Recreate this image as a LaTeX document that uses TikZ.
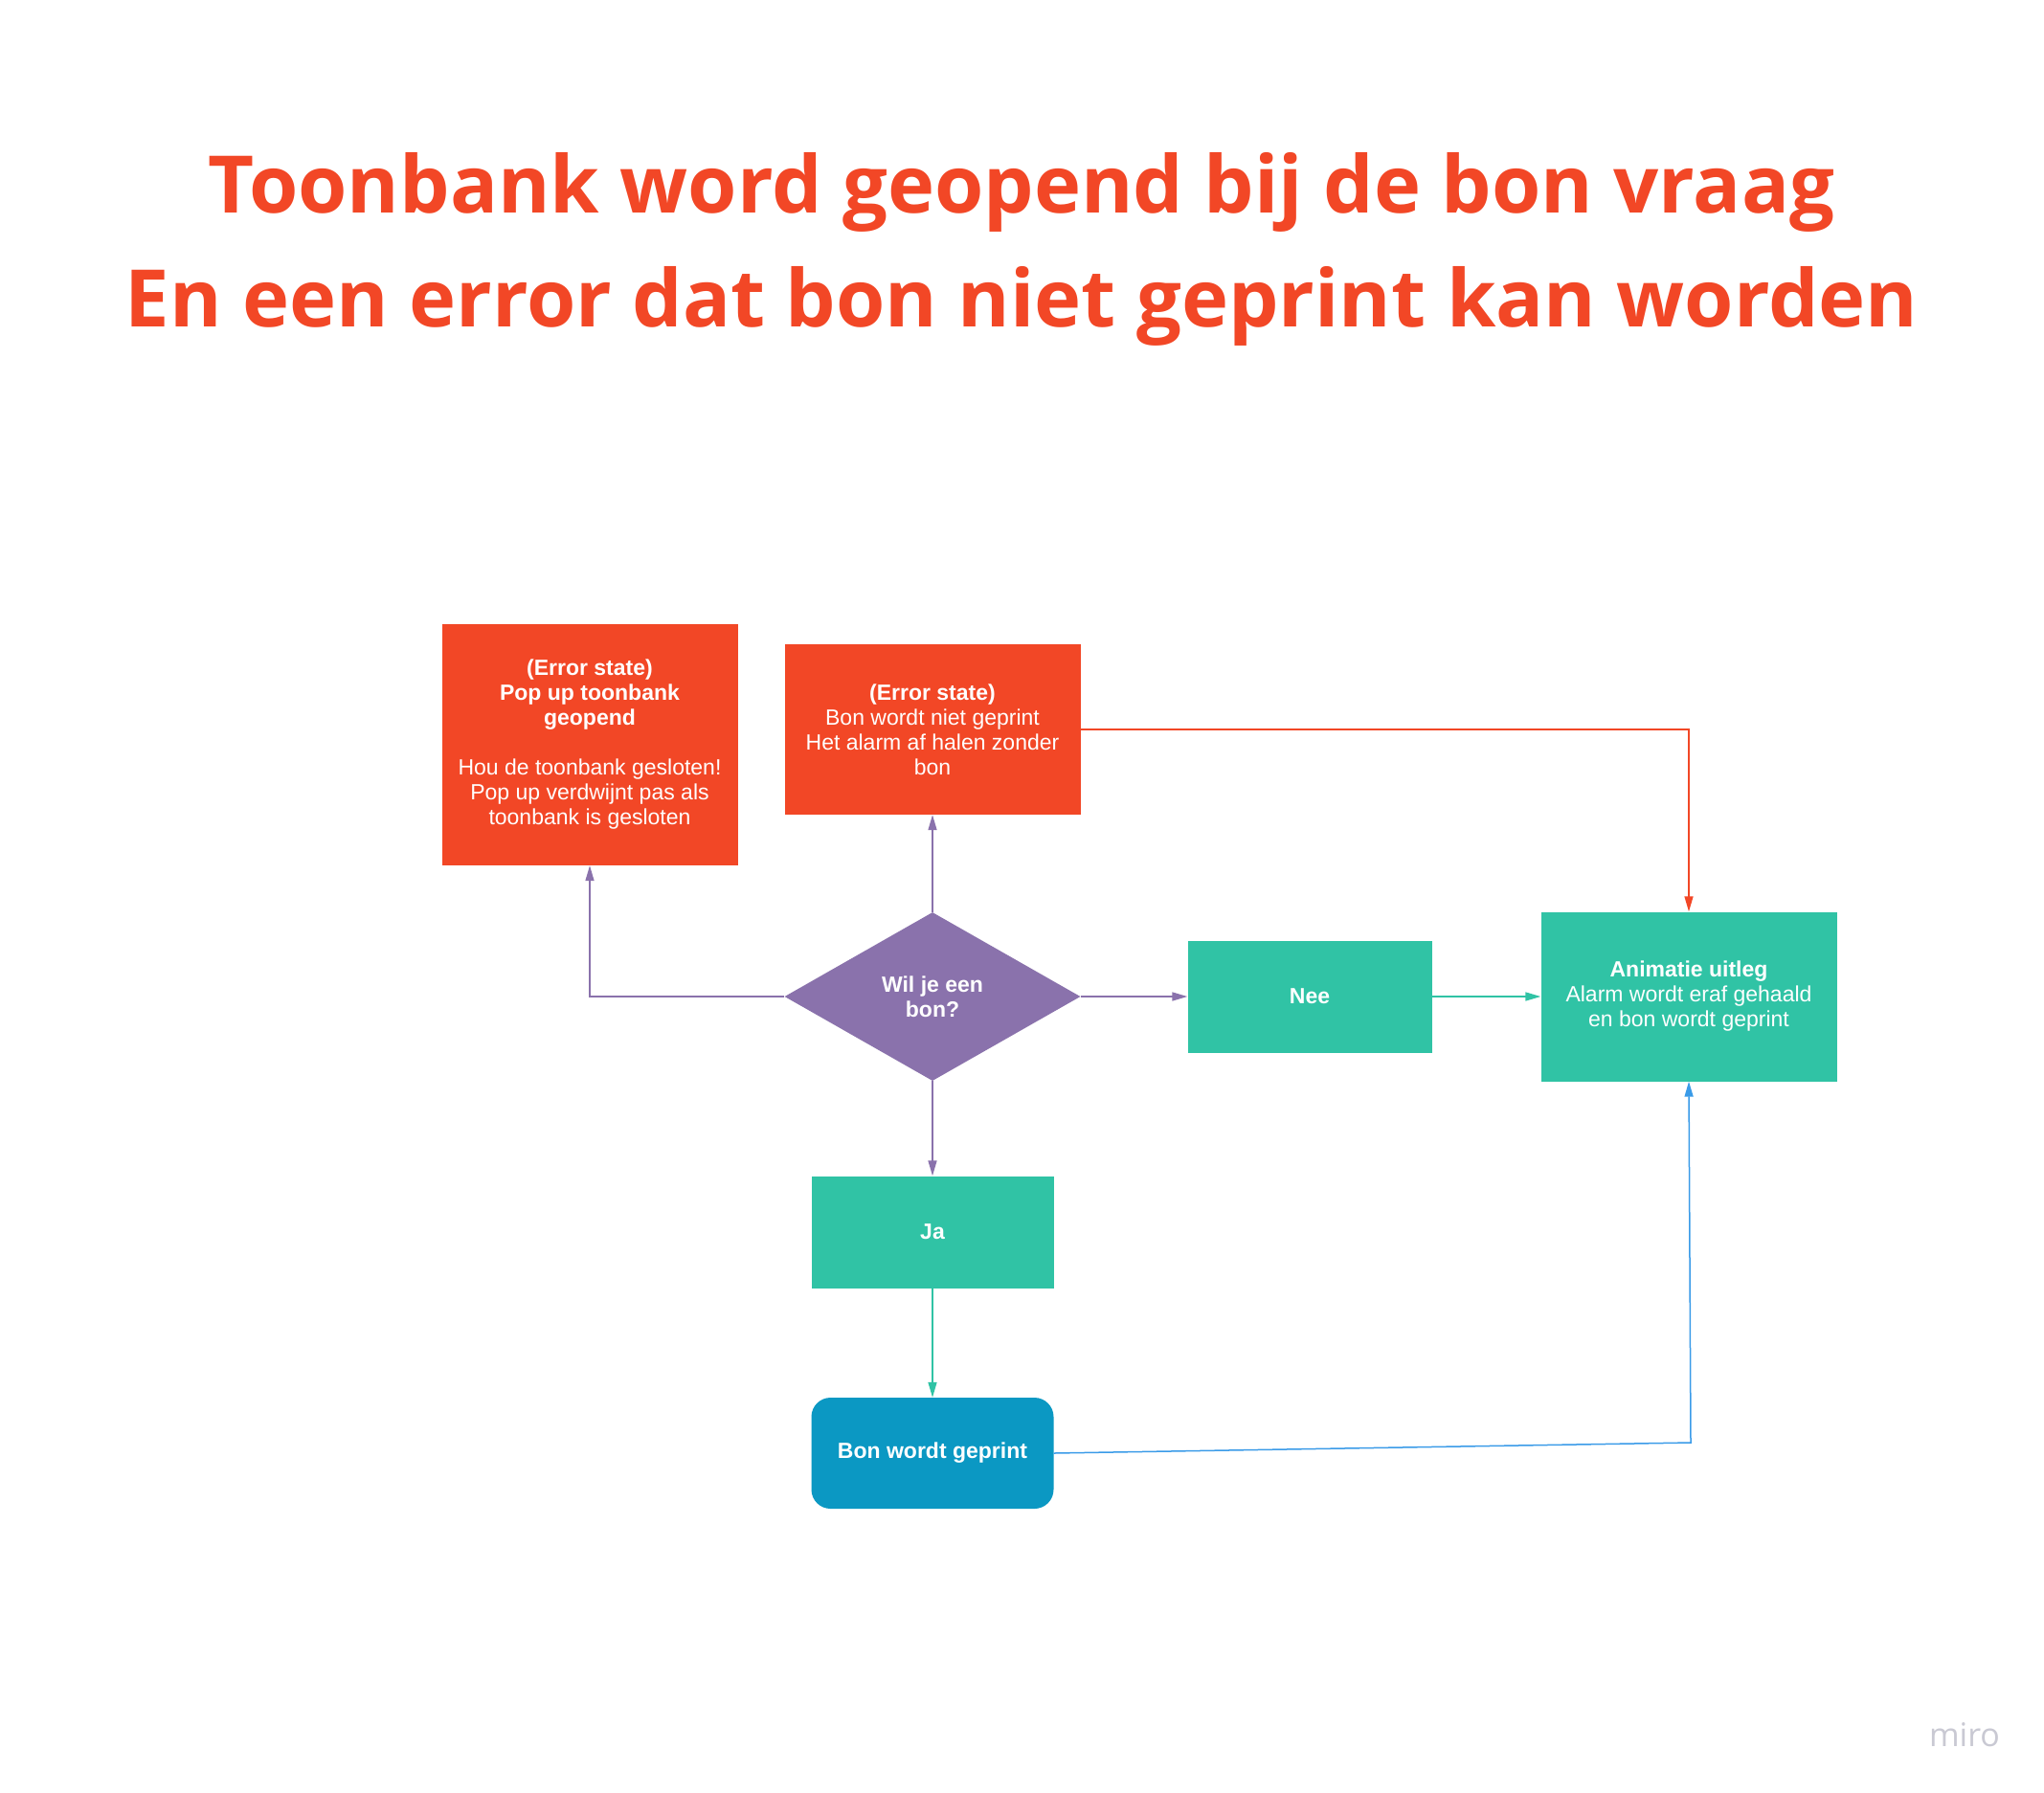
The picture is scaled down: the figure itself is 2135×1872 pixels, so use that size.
\documentclass[tikz,border=0pt]{standalone}
\usepackage{fontspec}
\setmainfont{Liberation Sans}
\newfontfamily\titlefont{Open Sans}
\usetikzlibrary{shapes.geometric,arrows.meta}
\definecolor{mred}{HTML}{F24726}
\definecolor{mteal}{HTML}{30C3A5}
\definecolor{mpurple}{HTML}{8A72AC}
\definecolor{mbluebox}{HTML}{0B98C3}
\definecolor{mblueline}{HTML}{3A9BE8}
\definecolor{mgray}{HTML}{C9C9D3}
\begin{document}
\begin{tikzpicture}[x=1pt,y=-1pt,
  boxbase/.style={rectangle, text=white, align=center, inner sep=0pt,
    font=\fontsize{23}{26}\selectfont},
  errbox/.style={boxbase, fill=mred, minimum width=309pt},
  tealbox/.style={boxbase, fill=mteal},
  decbox/.style={diamond, fill=mpurple, text=white, align=center, inner sep=0pt,
    minimum width=309pt, minimum height=176pt, font=\fontsize{23}{26}\selectfont\bfseries},
  endbox/.style={boxbase, fill=mbluebox, rounded corners=20pt},
  conn/.style={line width=1.5pt, -{Triangle[length=16pt,width=9pt]}},
  pline/.style={conn, draw=mpurple},
  tline/.style={conn, draw=mteal},
  rline/.style={conn, draw=mred},
  bline/.style={conn, draw=mblueline},
  titletext/.style={anchor=base, text=mred, font=\titlefont\bfseries\fontsize{83}{100}\selectfont}
]
\useasboundingbox (0,0) rectangle (2135,1872);
\fill[white] (0,0) rectangle (2135,1872);

\node[titletext] (t1) at (1067,222) {Toonbank word geopend bij de bon vraag};
\node[titletext] (t2) at (1067,341) {En een error dat bon niet geprint kan worden};

\node[errbox, minimum height=252pt] (err1) at (616,778)
  {\textbf{(Error state)}\\\textbf{Pop up toonbank}\\\textbf{geopend}\\[26pt]Hou de toonbank gesloten!\\Pop up verdwijnt pas als\\toonbank is gesloten};
\node[errbox, minimum height=178pt] (err2) at (974,762)
  {\textbf{(Error state)}\\Bon wordt niet geprint\\Het alarm af halen zonder\\bon};
\node[decbox] (dec) at (974,1041) {Wil je een\\bon?};
\node[tealbox, minimum width=255pt, minimum height=117pt, font=\fontsize{23}{26}\selectfont\bfseries] (nee) at (1368,1041) {Nee};
\node[tealbox, minimum width=309pt, minimum height=177pt] (anim) at (1764,1041)
  {\textbf{Animatie uitleg}\\Alarm wordt eraf gehaald\\en bon wordt geprint};
\node[tealbox, minimum width=253pt, minimum height=117pt, font=\fontsize{23}{26}\selectfont\bfseries] (ja) at (974,1287) {Ja};
\node[endbox, minimum width=253pt, minimum height=116pt, font=\fontsize{23}{26}\selectfont\bfseries] (bon) at (974,1518) {Bon wordt geprint};

\coordinate (bcorner) at (1766,1507);

\draw[pline] (dec.west) -| (err1.south);
\draw[pline] (dec.north) -- (err2.south);
\draw[pline] (dec.east) -- (nee.west);
\draw[pline] (dec.south) -- (ja.north);
\draw[tline] (nee.east) -- (anim.west);
\draw[tline] (ja.south) -- (bon.north);
\draw[rline] (err2.east) -| (anim.north);
\draw[bline] (bon.east) -- (bcorner) -- (anim.south);

\node[text=mgray, font=\titlefont\fontsize{34}{40}\selectfont] (miro) at (2052,1812) {miro};
\end{tikzpicture}
\end{document}
